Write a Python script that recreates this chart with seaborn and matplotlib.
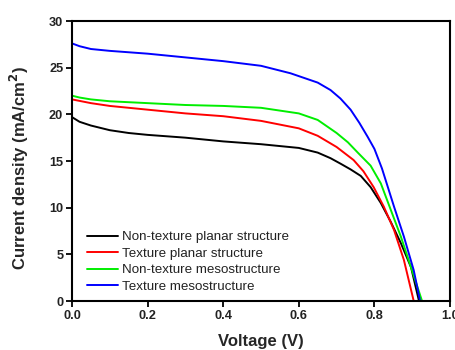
import numpy as np
import pandas as pd
import matplotlib
matplotlib.use("Agg")
import matplotlib.pyplot as plt
import seaborn as sns

# ---- data ----
series_names = ["Non-texture planar structure", "Texture planar structure",
                "Non-texture mesostructure", "Texture mesostructure"]
series_colors = ["#000000", "#ff0000", "#00ee00", "#0000ff"]

v_black = [0, 0.02, 0.05, 0.1, 0.15, 0.2, 0.3, 0.4, 0.5, 0.6, 0.65, 0.684, 0.711, 0.737, 0.764, 0.79, 0.817, 0.843, 0.87, 0.897, 0.918]
j_black = [19.7, 19.2, 18.8, 18.3, 18.0, 17.8, 17.5, 17.1, 16.8, 16.4, 15.9, 15.3, 14.7, 14.1, 13.4, 12.2, 10.5, 8.5, 6.2, 3.6, 0.0]

v_red = [0, 0.05, 0.1, 0.2, 0.3, 0.4, 0.5, 0.6, 0.65, 0.7, 0.745, 0.771, 0.798, 0.825, 0.852, 0.878, 0.904]
j_red = [21.6, 21.2, 20.9, 20.5, 20.1, 19.8, 19.3, 18.5, 17.7, 16.5, 15.1, 13.9, 12.2, 10.1, 7.6, 4.4, 0.0]

v_green = [0, 0.02, 0.05, 0.1, 0.2, 0.3, 0.4, 0.5, 0.6, 0.65, 0.7, 0.73, 0.756, 0.79, 0.817, 0.843, 0.87, 0.897, 0.926]
j_green = [22.0, 21.8, 21.6, 21.4, 21.2, 21.0, 20.9, 20.7, 20.1, 19.4, 18.0, 17.0, 15.9, 14.5, 12.6, 9.8, 6.9, 3.6, 0.0]

v_blue = [0, 0.02, 0.05, 0.1, 0.2, 0.3, 0.4, 0.5, 0.578, 0.65, 0.684, 0.71, 0.737, 0.76, 0.782, 0.8, 0.82, 0.852, 0.878, 0.904, 0.921]
j_blue = [27.6, 27.3, 27.0, 26.8, 26.5, 26.1, 25.7, 25.2, 24.4, 23.4, 22.6, 21.7, 20.5, 19.1, 17.6, 16.3, 14.2, 10.1, 6.9, 3.3, 0.0]

x_ticks = [0.0, 0.2, 0.4, 0.6, 0.8, 1.0]
y_ticks = [0, 5, 10, 15, 20, 25, 30]

frames = []
for name, v, j in zip(series_names, [v_black, v_red, v_green, v_blue],
                      [j_black, j_red, j_green, j_blue]):
    frames.append(pd.DataFrame({"Voltage": v, "Current": j, "Sample": name}))
df = pd.concat(frames, ignore_index=True)

sns.set_style("ticks")
plt.rcParams["font.family"] = ["Liberation Sans", "DejaVu Sans"]

fig = plt.figure(figsize=(4.56, 3.5), dpi=100)
ax = fig.add_axes([72/456, 1-301/350, 378/456, 280/350])

sns.lineplot(data=df, x="Voltage", y="Current", hue="Sample",
             hue_order=series_names, palette=series_colors,
             estimator=None, sort=False, linewidth=1.4, ax=ax)

ax.set_xlim(0, 1.0)
ax.set_ylim(0, 30)
ax.set_xticks(x_ticks)
ax.set_xticklabels([f"{t:.1f}" for t in x_ticks])
ax.set_yticks(y_ticks)
ax.set_yticklabels([str(t) for t in y_ticks])

for s in ax.spines.values():
    s.set_visible(True)
    s.set_linewidth(1.5)
    s.set_color("black")
ax.tick_params(axis="both", direction="out", length=4.3, width=1.3,
               labelsize=9.2, colors="black", labelcolor="#222222", pad=2)
for lbl in ax.get_xticklabels() + ax.get_yticklabels():
    lbl.set_fontweight("bold")

ax.set_xlabel("Voltage (V)", fontsize=12, fontweight="bold")
ax.set_ylabel("Current density (mA/cm$^\\mathbf{2}$)", fontsize=12, fontweight="bold")
ax.xaxis.set_label_coords(0.5, -0.118)
ax.yaxis.set_label_coords(-0.108, 0.475)

leg = ax.legend(loc="upper left", bbox_to_anchor=(0.04, 0.25), frameon=False,
                fontsize=9.6, handlelength=2.3, handletextpad=0.3,
                labelspacing=0.31, borderpad=0, borderaxespad=0)
for t in leg.get_texts():
    t.set_color("#222222")

fig.savefig("out.png", dpi=100)
